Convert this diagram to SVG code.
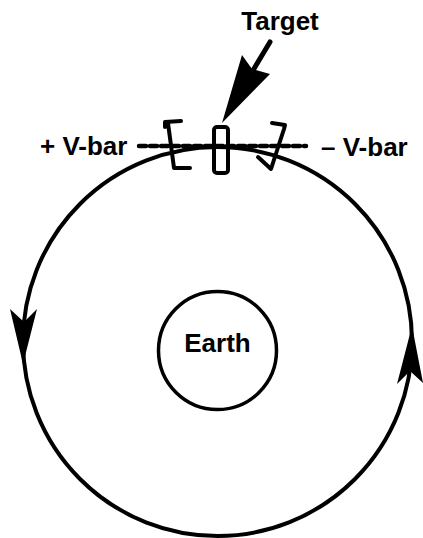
<svg xmlns="http://www.w3.org/2000/svg" width="423" height="538" viewBox="0 0 423 538">
<style>
.lbl{font-family:"Liberation Sans",Arial,sans-serif;font-weight:bold;font-size:26px;fill:#000}
.ln{fill:none;stroke:#000;stroke-linecap:round;stroke-linejoin:round}
.head{fill:#000;stroke:none}
</style>
<rect width="423" height="538" fill="#fff"/>
<g id="orbit">
<circle class="ln" cx="217.5" cy="341.5" r="194.5" stroke-width="4"/>
<path class="head" d="M23,364 L37,309 L24,322 L10,309 Z"/>
<path class="head" d="M412,326 L423,383 L410,371 L397,384 Z"/>
</g>
<g id="earth">
<circle class="ln" cx="217.5" cy="350.5" r="59" stroke-width="3.5"/>
<text class="lbl" x="217.5" y="352" text-anchor="middle">Earth</text>
</g>
<g id="vbar-line">
<line class="ln" x1="139" y1="146" x2="306" y2="146" stroke-width="4.5" stroke-dasharray="7 4" stroke-linecap="butt"/>
</g>
<g id="target">
<rect class="ln" x="214" y="127" width="14" height="46" rx="3" stroke-width="4"/>
<text class="lbl" x="280" y="30" text-anchor="middle">Target</text>
</g>
<g id="target-arrow">
<line class="ln" x1="270" y1="42" x2="252" y2="72" stroke-width="5" stroke-linecap="butt"/>
<path class="head" d="M222,123 L242,55 L252,69 L270,74 Z"/>
</g>
<g id="bracket-left">
<path class="ln" d="M165,127 L165,122 L181,121 M168,123 L174,168 L190,168" stroke-width="4"/>
</g>
<g id="bracket-right">
<path class="ln" d="M272,123 L285,125 L284,129 L271,169 L258,157" stroke-width="4"/>
</g>
<g id="labels">
<text class="lbl" x="40" y="155">+ V-bar</text>
<text class="lbl" x="321" y="156">– V-bar</text>
</g>
</svg>
